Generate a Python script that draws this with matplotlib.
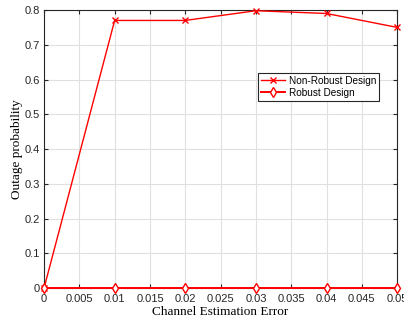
import matplotlib
matplotlib.use("Agg")
import matplotlib.pyplot as plt
import numpy as np

errors = [0, 0.01, 0.02, 0.03, 0.04, 0.05]
non_robust = [0, 0.77, 0.77, 0.798, 0.79, 0.75]
robust = [0, 0, 0, 0, 0, 0]
xticks = [0, 0.005, 0.01, 0.015, 0.02, 0.025, 0.03, 0.035, 0.04, 0.045, 0.05]
xticklabels = ["0", "0.005", "0.01", "0.015", "0.02", "0.025", "0.03", "0.035", "0.04", "0.045", "0.05"]
yticks = [0, 0.1, 0.2, 0.3, 0.4, 0.5, 0.6, 0.7, 0.8]
yticklabels = ["0", "0.1", "0.2", "0.3", "0.4", "0.5", "0.6", "0.7", "0.8"]

plt.rcParams['font.family'] = ['Liberation Sans', 'DejaVu Sans']
fig = plt.figure(figsize=(4.04, 3.23), dpi=100)
ax = fig.add_axes([0.109, 0.108, 0.874, 0.861])

ax.plot(errors, non_robust, color='red', marker='x', markersize=5, linewidth=1,
        label='Non-Robust Design', clip_on=False, zorder=3)
ax.plot(errors, robust, color='red', marker='d', markersize=5.5, markerfacecolor='white',
        linewidth=1.4, label='Robust Design', clip_on=False, zorder=4)

ax.set_xlim(0, 0.05)
ax.set_ylim(0, 0.8)
ax.set_xticks(xticks)
ax.set_xticklabels(xticklabels)
ax.set_yticks(yticks)
ax.set_yticklabels(yticklabels)
ax.tick_params(direction='in', labelsize=8, length=3, color='#262626', labelcolor='#262626', top=True, right=True)
ax.tick_params(axis='x', pad=4)
ax.tick_params(axis='y', pad=3)
ax.grid(True, color='#e0e0e0', linewidth=0.8)
ax.set_axisbelow(True)
for s in ax.spines.values():
    s.set_color('#262626')
    s.set_linewidth(0.8)

ax.set_xlabel('Channel Estimation Error', family=['Liberation Serif'], fontsize=9.5, labelpad=2)
ax.set_ylabel('Outage probability', family=['Liberation Serif'], fontsize=9.5, labelpad=1)

leg = ax.legend(loc='upper left', bbox_to_anchor=(0.605, 0.775), fontsize=7.2,
                frameon=True, fancybox=False, edgecolor='#262626', framealpha=1,
                handlelength=2.4, borderpad=0.3, labelspacing=0.2, handletextpad=0.4,
                borderaxespad=0)
leg.get_frame().set_linewidth(0.8)

fig.savefig('out.png', dpi=100)
